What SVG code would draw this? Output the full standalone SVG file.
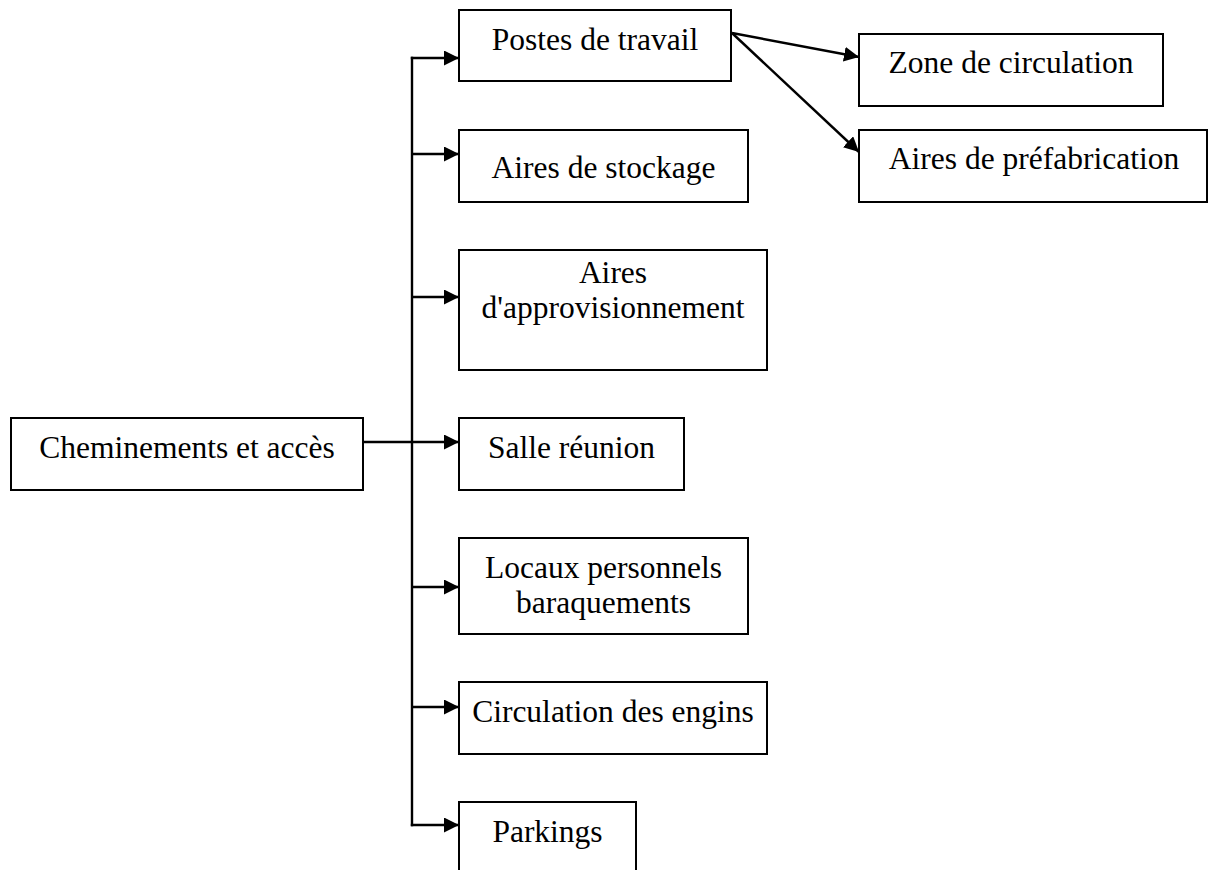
<svg xmlns="http://www.w3.org/2000/svg" width="1208" height="870" viewBox="0 0 1208 870">
<style>
.box{fill:#fff;stroke:#000;stroke-width:2}
.t{font-family:"Liberation Serif","Times New Roman",serif;font-size:31.5px;fill:#000;text-anchor:middle}
.c{fill:none;stroke:#000;stroke-width:2.4}
</style>
<defs>
<marker id="arr" markerUnits="userSpaceOnUse" markerWidth="16" markerHeight="15" refX="15" refY="7.5" orient="auto">
<path d="M0,0 L15,7.5 L0,15 z" fill="#000"/>
</marker>
</defs>
<rect width="1208" height="870" fill="#fff"/>
<g id="connectors">
<line class="c" x1="412" y1="56.8" x2="412" y2="826.2"/>
<line class="c" x1="363" y1="442" x2="459" y2="442" marker-end="url(#arr)"/>
<line class="c" x1="410.8" y1="58" x2="459" y2="58" marker-end="url(#arr)"/>
<line class="c" x1="411" y1="154" x2="459" y2="154" marker-end="url(#arr)"/>
<line class="c" x1="411" y1="297" x2="459" y2="297" marker-end="url(#arr)"/>
<line class="c" x1="411" y1="587" x2="459" y2="587" marker-end="url(#arr)"/>
<line class="c" x1="411" y1="707" x2="459" y2="707" marker-end="url(#arr)"/>
<line class="c" x1="410.8" y1="825" x2="459" y2="825" marker-end="url(#arr)"/>
<line class="c" x1="732" y1="33" x2="859" y2="57" marker-end="url(#arr)"/>
<line class="c" x1="732" y1="33" x2="859" y2="152" marker-end="url(#arr)"/>
</g>
<g id="n-cheminements"><rect class="box" x="11" y="418" width="352" height="72"/><text class="t" x="187" y="458">Cheminements et accès</text></g>
<g id="n-postes"><rect class="box" x="459" y="10" width="272" height="71"/><text class="t" x="595" y="50">Postes de travail</text></g>
<g id="n-stockage"><rect class="box" x="459" y="130" width="289" height="72"/><text class="t" x="603.5" y="178">Aires de stockage</text></g>
<g id="n-approv"><rect class="box" x="459" y="250" width="308" height="120"/><text class="t" x="613" y="283">Aires</text><text class="t" x="613" y="318">d'approvisionnement</text></g>
<g id="n-salle"><rect class="box" x="459" y="418" width="225" height="72"/><text class="t" x="571.5" y="458">Salle réunion</text></g>
<g id="n-locaux"><rect class="box" x="459" y="538" width="289" height="96"/><text class="t" x="603.5" y="578">Locaux personnels</text><text class="t" x="603.5" y="613">baraquements</text></g>
<g id="n-circulation"><rect class="box" x="459" y="682" width="308" height="72"/><text class="t" x="613" y="722">Circulation des engins</text></g>
<g id="n-parkings"><rect class="box" x="459" y="802" width="177" height="80"/><text class="t" x="547.5" y="842">Parkings</text></g>
<g id="n-zone"><rect class="box" x="859" y="34" width="304" height="72"/><text class="t" x="1011" y="73">Zone de circulation</text></g>
<g id="n-prefab"><rect class="box" x="859" y="130" width="348" height="72"/><text class="t" x="1034" y="169">Aires de préfabrication</text></g>
</svg>
